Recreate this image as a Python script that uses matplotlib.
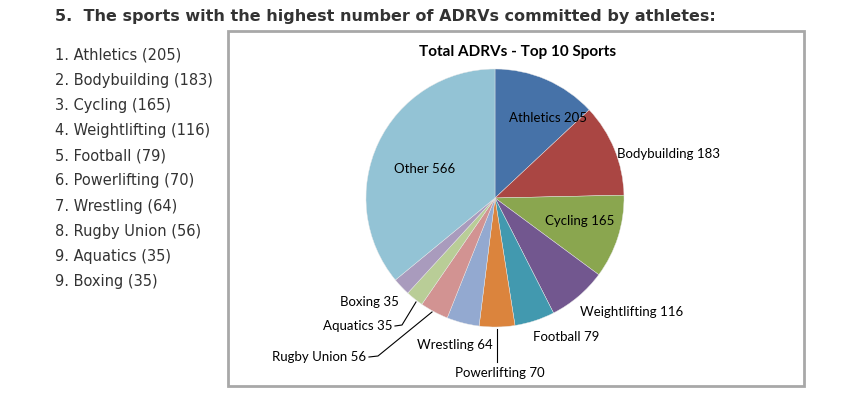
import matplotlib
matplotlib.use("Agg")
import matplotlib.pyplot as plt
from matplotlib.patches import Rectangle

W, H = 855, 396

sports = ["Athletics", "Bodybuilding", "Cycling", "Weightlifting", "Football",
          "Powerlifting", "Wrestling", "Rugby Union", "Aquatics", "Boxing", "Other"]
counts = [205, 183, 165, 116, 79, 70, 64, 56, 35, 35, 566]
list_ranks = ["1", "2", "3", "4", "5", "6", "7", "8", "9", "9"]
colors = ["#4672A8", "#AA4643", "#8AA64F", "#72578F", "#4299AF", "#DB843D",
          "#93A9D0", "#D29392", "#B9CD97", "#A99BBD", "#93C3D5"]

# label placement (pixel coords, y from top) and optional leader lines
label_pos = {
    "Athletics": (548, 118, "center"), "Bodybuilding": (668, 154, "center"),
    "Cycling": (580, 221, "center"), "Weightlifting": (632, 312, "center"),
    "Football": (566, 337, "center"), "Powerlifting": (500, 373, "center"),
    "Wrestling": (455, 345, "center"), "Rugby Union": (366, 357, "right"),
    "Aquatics": (392, 326, "right"), "Boxing": (399, 302, "right"),
    "Other": (425, 169, "center"),
}
leaders = {
    "Powerlifting": [(497, 329), (497, 362)],
    "Rugby Union": [(432, 312), (378, 356), (369, 357)],
    "Aquatics": [(416, 302), (402, 325), (395, 326)],
}

fig = plt.figure(figsize=(W / 100, H / 100), dpi=100)
ax = fig.add_axes([0, 0, 1, 1])

fig.text(55 / W, 1 - 17 / H, "5.  The sports with the highest number of ADRVs committed by athletes:",
         fontsize=11.5, fontweight="bold", color="#333333", va="center",
         family="DejaVu Sans")
for i, (r, s, c) in enumerate(zip(list_ranks, sports, counts)):
    fig.text(55 / W, 1 - (55 + i * 25.2) / H, f"{r}. {s} ({c})", fontsize=10.5,
             color="#333333", va="center", family="DejaVu Sans")

# y axis is inverted, so counterclock=True draws clockwise on screen
ax.pie(counts, colors=colors, center=(495, 198), radius=129, startangle=-90,
       counterclock=True, frame=True,
       wedgeprops=dict(linewidth=0.3, edgecolor="#e8e8e8"))
ax.set_xlim(0, W)
ax.set_ylim(H, 0)
ax.set_aspect("auto")
ax.axis("off")

ax.add_patch(Rectangle((228, 31), 576, 355, fill=False, ec="#A8A8A8", lw=2))
ax.text(518, 52, "Total ADRVs - Top 10 Sports", fontsize=11, fontweight="bold",
        ha="center", va="center", family="Lato", color="#000000")

for s, c in zip(sports, counts):
    x, y, ha = label_pos[s]
    ax.text(x, y, f"{s} {c}", fontsize=9.5, ha=ha, va="center",
            family="Lato", color="#000000")
for s, pts in leaders.items():
    ax.plot([p[0] for p in pts], [p[1] for p in pts], color="#000000", lw=0.8)

fig.savefig("out.png", dpi=100, facecolor="white")
